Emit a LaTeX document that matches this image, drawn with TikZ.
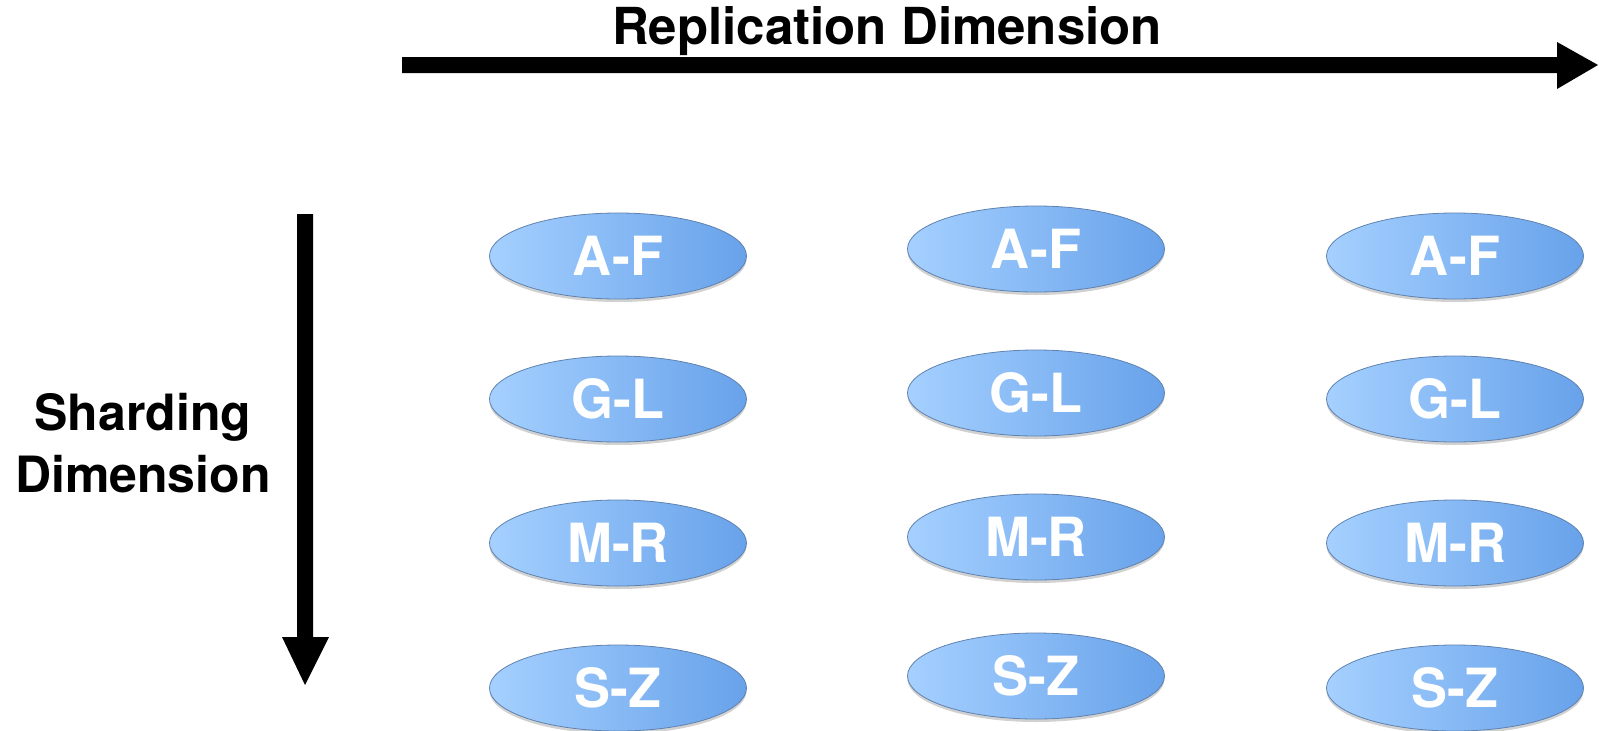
\documentclass[tikz,border=0pt]{standalone}
\usepackage{fontspec}
\setmainfont{TeX Gyre Heros}
\usetikzlibrary{shapes.geometric,shadows}
\definecolor{shardL}{RGB}{165,208,255}
\definecolor{shardR}{RGB}{104,162,234}
\definecolor{shardEdge}{RGB}{95,130,175}
\tikzset{
  shard/.style={ellipse, minimum width=257pt, minimum height=86pt, inner sep=0pt,
    left color=shardL, right color=shardR, draw=shardEdge, line width=0.8pt,
    drop shadow={shadow xshift=0pt, shadow yshift=-3pt, opacity=0.3, fill=black!60},
    text=white, font=\fontsize{54}{58}\selectfont\bfseries},
  axislabel/.style={font=\fontsize{51}{60}\selectfont\bfseries, align=center, text=black, inner sep=0pt},
  bigarrow/.style={fill=black, draw=none}
}
\begin{document}
\begin{tikzpicture}[x=1pt, y=-1pt]
\useasboundingbox (0,0) rectangle (1599,731);
% axes
\fill[bigarrow] (402,57) -- (1557,57) -- (1557,42) -- (1598,65) -- (1557,89) -- (1557,73) -- (402,73) -- cycle;
\fill[bigarrow] (297,214) -- (313,214) -- (313,637) -- (329,637) -- (305,685) -- (282,637) -- (297,637) -- cycle;
\node[axislabel] (rep) at (887,31) {Replication Dimension};
\node[axislabel, font=\fontsize{50}{60}\selectfont\bfseries] (shd) at (143,443) {Sharding\\[2pt]Dimension};
% shard replicas
\foreach \col/\x/\ya/\yb/\yc/\yd in {1/618/256/399/543/688, 2/1036/249/393/537/676, 3/1455/256/399/543/688}{
  \node[shard] (af\col) at (\x,\ya) {A-F};
  \node[shard] (gl\col) at (\x,\yb) {G-L};
  \node[shard] (mr\col) at (\x,\yc) {M-R};
  \node[shard] (sz\col) at (\x,\yd) {S-Z};
}
\end{tikzpicture}
\end{document}
